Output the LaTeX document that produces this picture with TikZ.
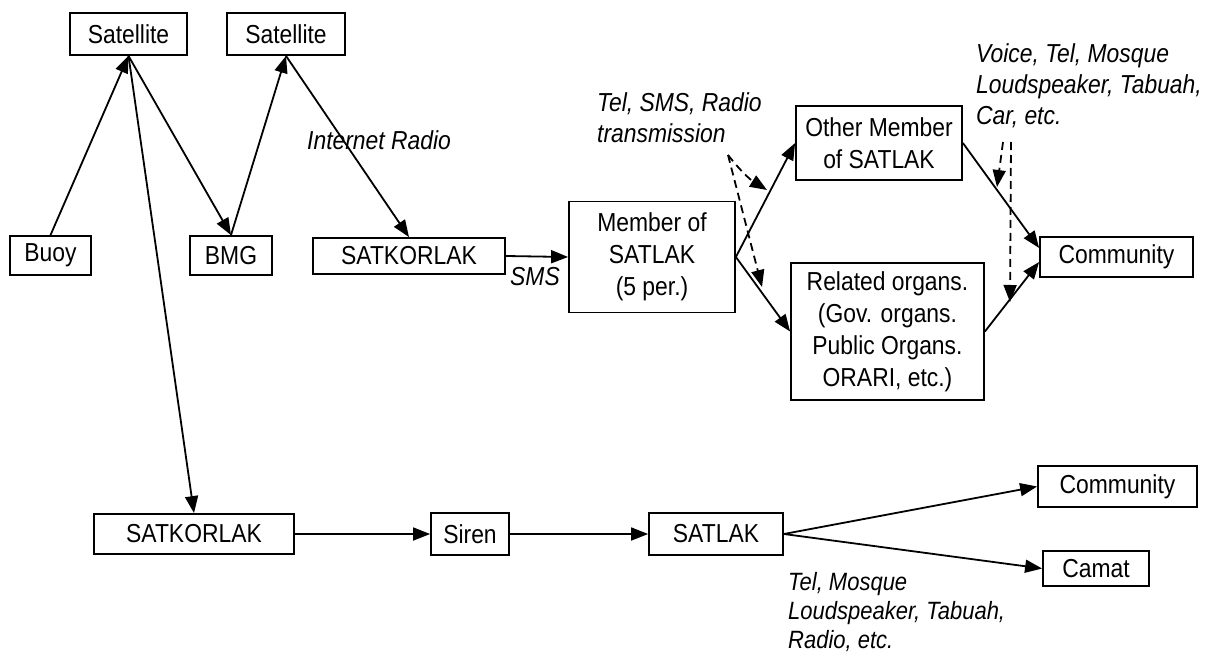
\documentclass[tikz,border=0pt]{standalone}
\usepackage{fontspec}
\setmainfont{Liberation Sans}[FakeStretch=0.88]
\usepackage{tikz}
\usetikzlibrary{arrows.meta}

\begin{document}
\begin{tikzpicture}[
    x=1pt, y=-1pt,
    every node/.style={font=\fontsize{26}{32}\selectfont},
    box/.style={draw, rectangle, line width=1.8pt, inner sep=0pt, align=center},
    note/.style={font=\fontsize{26}{31}\selectfont\itshape, align=left, inner sep=0pt, anchor=north west},
    link/.style={line width=1.8pt, -{Triangle[length=17pt,width=13pt]}},
    hint/.style={link, dash pattern=on 8pt off 5pt}
]
\useasboundingbox (0,0) rectangle (1216,655);

\node[box, minimum width=117pt, minimum height=42pt] (sat1) at (128.5,34) {Satellite};
\node[box, minimum width=118pt, minimum height=42pt] (sat2) at (286,34) {Satellite};
\node[box, minimum width=81pt, minimum height=39pt] (buoy) at (50.5,255.5) {Buoy};
\node[box, minimum width=82pt, minimum height=39pt] (bmg) at (231,255.5) {BMG};
\node[box, minimum width=192pt, minimum height=36pt] (kor1) at (409,256) {SATKORLAK};
\node[box, minimum width=166pt, minimum height=111pt] (member) at (652,257) {Member of\\SATLAK\\(5 per.)};
\node[box, minimum width=166pt, minimum height=74pt] (other) at (879,143) {Other Member\\of SATLAK};
\node[box, minimum width=193pt, minimum height=137pt] (organs) at (887.5,331.5) {Related organs.\\(Gov. organs.\\Public Organs.\\ORARI, etc.)};
\node[box, minimum width=153pt, minimum height=40pt] (comm1) at (1116.5,257) {Community};
\node[box, minimum width=200pt, minimum height=40pt] (kor2) at (194,534) {SATKORLAK};
\node[box, minimum width=78pt, minimum height=42pt] (siren) at (470,534) {Siren};
\node[box, minimum width=134pt, minimum height=42pt] (satlak) at (716,534) {SATLAK};
\node[box, minimum width=159pt, minimum height=41pt] (comm2) at (1117.5,486.5) {Community};
\node[box, minimum width=106pt, minimum height=35pt] (camat) at (1096,568.5) {Camat};

\node[note] (lblnet) at (307,130) {Internet Radio};
\node[note] (lblsms) at (510,267) {SMS};
\node[note] (lbltel) at (597,92) {Tel, SMS, Radio\\transmission};
\node[note] (lblvoice) at (976,43) {Voice, Tel, Mosque\\Loudspeaker, Tabuah,\\Car, etc.};
\node[note, font=\fontsize{25}{29}\selectfont\itshape] (lblsiren) at (788,572) {Tel, Mosque\\Loudspeaker, Tabuah,\\Radio, etc.};

\coordinate (telfork) at (728,155);
\coordinate (telup) at (767,190);
\coordinate (teldown) at (762,287);
\coordinate (voicea) at (1003,142);
\coordinate (voiceat) at (997,187);
\coordinate (voiceb) at (1011,142);
\coordinate (voicebt) at (1010,302);

\draw[link] (buoy.north) -- (sat1.south);
\draw[link] (sat1.south) -- (bmg.north);
\draw[link] (bmg.north) -- (sat2.south);
\draw[link] (sat2.south) -- (kor1.north);
\draw[link] (sat1.south) -- (kor2.north);
\draw[link] (kor1.east) -- (member.west);
\draw[link] (member.east) -- (other.west);
\draw[link] (member.east) -- (organs.west);
\draw[link] (other.east) -- ([yshift=9pt]comm1.west);
\draw[link] (organs.east) -- ([yshift=-5pt]comm1.west);
\draw[link] (kor2.east) -- (siren.west);
\draw[link] (siren.east) -- (satlak.west);
\draw[link] (satlak.east) -- (comm2.west);
\draw[link] (satlak.east) -- (camat.west);

\draw[hint] (telfork) to[bend right=10] (telup);
\draw[hint] (telfork) -- (teldown);
\draw[hint] (voicea) -- (voiceat);
\draw[hint] (voiceb) -- (voicebt);
\end{tikzpicture}
\end{document}
